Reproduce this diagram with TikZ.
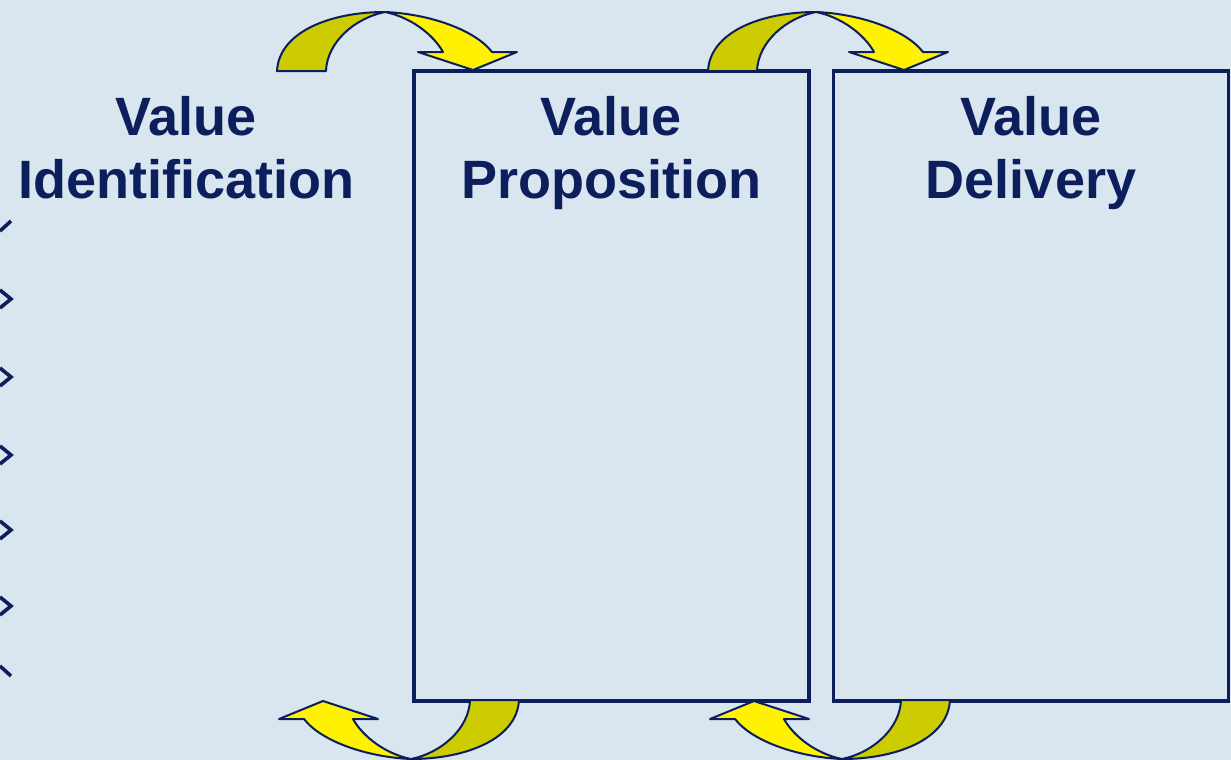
\documentclass[tikz,border=0pt]{standalone}
\usepackage{fontspec}
\setmainfont{Liberation Sans}
\definecolor{navy}{RGB}{12,30,92}
\definecolor{paleblue}{RGB}{217,230,240}
\definecolor{darkyellow}{RGB}{204,204,0}
\begin{document}
\begin{tikzpicture}[x=0.5pt,y=-0.5pt,
	box/.style={draw=navy,line width=1.7pt,minimum width=197.5pt,minimum height=315pt,inner sep=0pt},
	title/.style={text=navy,font=\fontsize{27}{31.5}\selectfont\bfseries,align=center,inner sep=0pt},
	tick/.style={draw=navy,line width=1.8pt},
	face/.style={draw=navy,line width=1pt,line join=round},
	bentarrow/.pic={
		% back of the band, then the front with its head
		\filldraw[face,fill=darkyellow] (-108,59) .. controls (-106,20) and (-55,0) .. (0,0)
			.. controls (-30,6) and (-58,30) .. (-59,59) -- cycle;
		\filldraw[face,fill=yellow] (0,0) .. controls (45,2) and (90,18) .. (107,40) -- (132,40) -- (88,58)
			-- (33,40) -- (58,40) .. controls (48,22) and (25,5) .. (0,0) -- cycle;
	}]
	\useasboundingbox (0,0) rectangle (1231,760);
	\fill[paleblue] (0,0) rectangle (1231,760);

	\node (prop) [box] at (611.5,386) {};
	\node (deliv) [box] at (1031,386) {};

	% anchor=base sits on the second line
	\node (identtxt) [title,anchor=base] at (186,198) {Value\\Identification};
	\node (proptxt) [title,anchor=base] at (611,198) {Value\\Proposition};
	\node (delivtxt) [title,anchor=base] at (1031,198) {Value\\Delivery};

	\pic at (385,12) {bentarrow};
	\pic at (816,12) {bentarrow};
	\pic[rotate=180] at (411,759) {bentarrow};
	\pic[rotate=180] at (842,759) {bentarrow};

	% bullet marks along the left edge
	\draw[tick] (0,231) -- (11,221);
	\foreach \y in {299,377,455,530,606}
		\draw[tick] (0,\y-9) -- (11,\y) -- (0,\y+9);
	\draw[tick] (0,666) -- (11,676);
\end{tikzpicture}
\end{document}
